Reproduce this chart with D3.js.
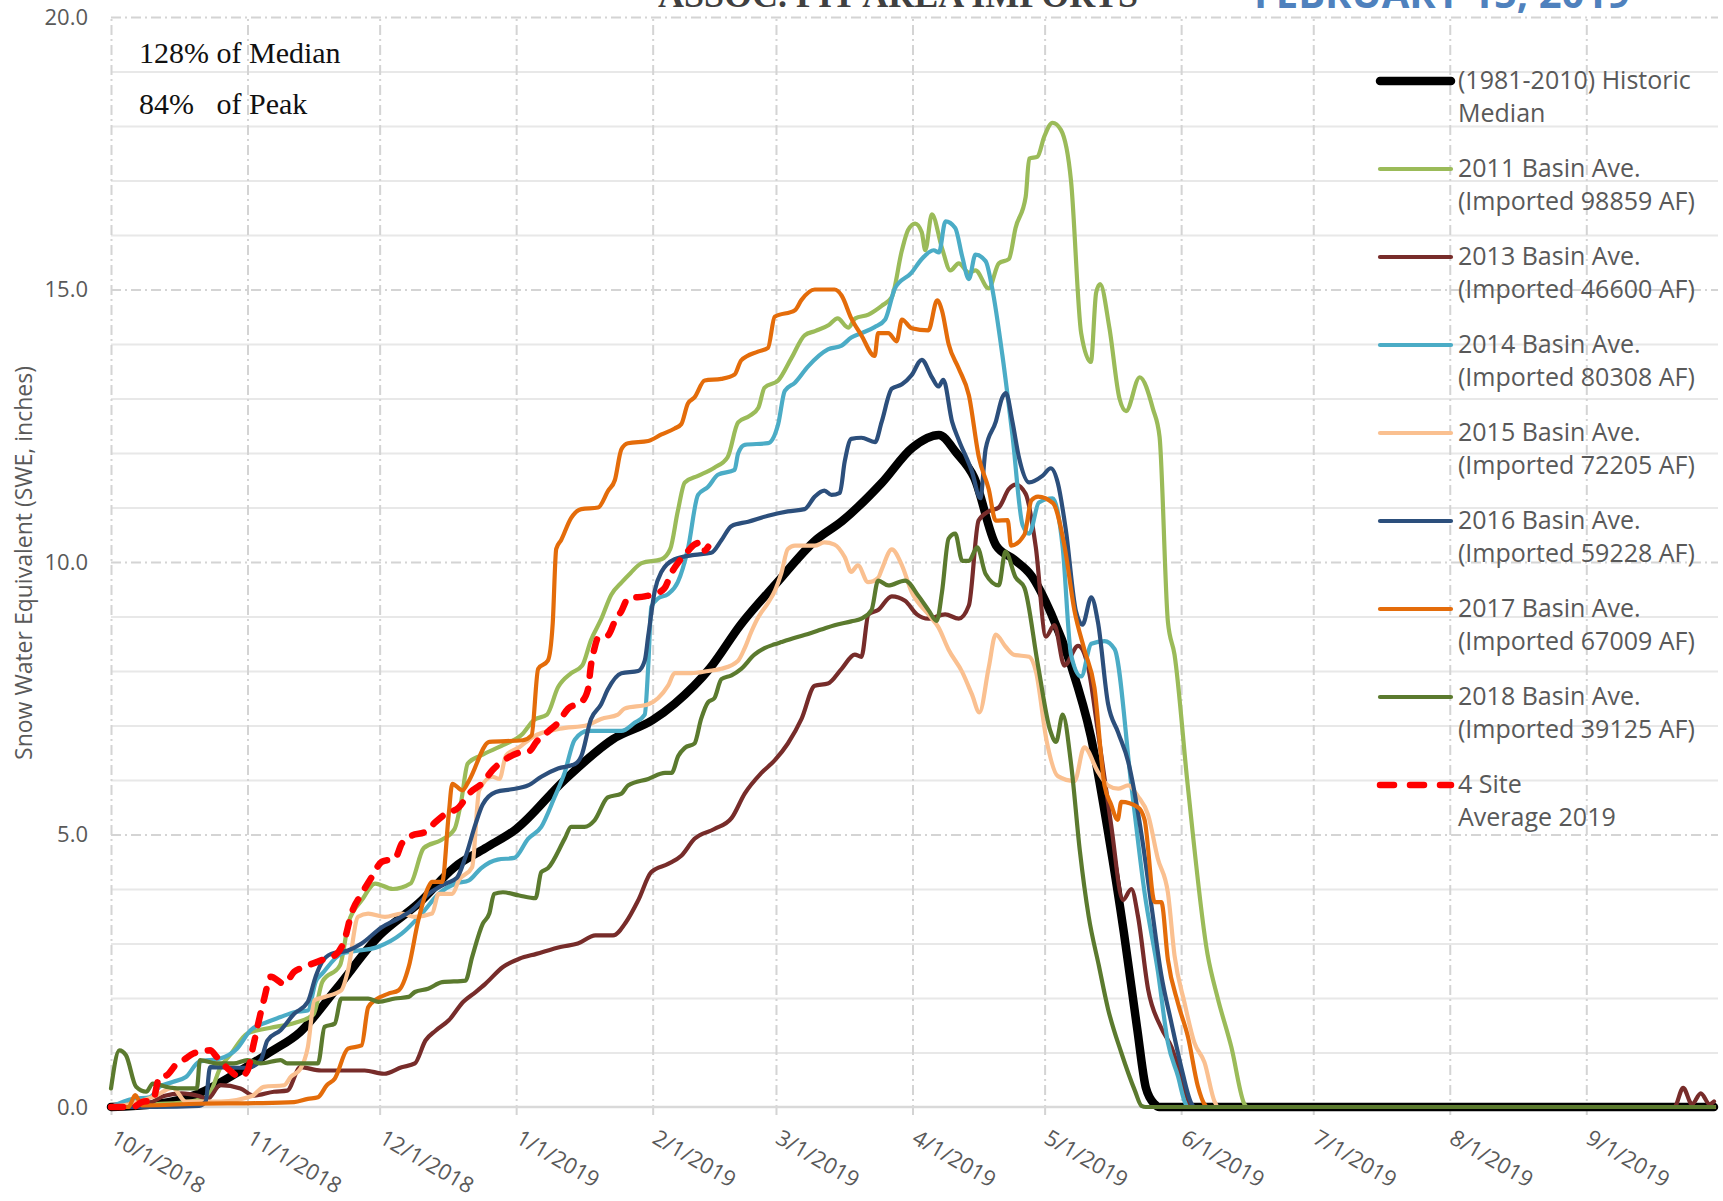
<!DOCTYPE html>
<html>
<head>
<meta charset="utf-8">
<script src="https://cdn.jsdelivr.net/npm/d3@7"></script>
<style>
  body { margin: 0; background: #fff; }
  text { font-family: "Open Sans", sans-serif; }
</style>
</head>
<body>
<div id="chart"></div>
<script>
// day offsets from 10/1/2018, SWE inches
var median = [[0,0],[10,0.05],[20,0.25],[28,0.6],[36,1.0],[43,1.38],[51,2.15],[61,3.15],[70,3.75],[78,4.4],[85,4.75],[92,5.1],[103,6.0],[114,6.75],[123,7.1],[128,7.4],[136,8.05],[143,8.85],[151,9.6],[160,10.4],[166,10.75],[175,11.45],[182,12.1],[188,12.33],[192,12.0],[196,11.55],[201,10.3],[205,10.05],[209,9.75],[213.5,9.05],[218,8.1],[222.5,6.8],[226.5,5.0],[230,3.2],[233,1.45],[235,0.35],[237,0.05],[238,0],[364,0]];

var y2011 = [[0,0],[10,0.05],[18,0.1],[22,0.2],[25,0.75],[27,0.95],[31,1.35],[36,1.45],[42,1.55],[46,1.7],[48,2.3],[52,2.6],[54,3.4],[57,3.8],[60,4.1],[64,4.0],[68,4.1],[71,4.75],[75,4.9],[78,5.1],[79.5,5.6],[81,6.3],[84,6.45],[89,6.64],[93.5,6.85],[96,7.1],[99,7.2],[101.5,7.7],[104.5,7.96],[107,8.1],[109,8.57],[111.3,8.95],[113.6,9.4],[116,9.63],[118,9.8],[120.5,9.98],[125,10.05],[127,10.24],[128.7,10.93],[130.3,11.46],[133.3,11.58],[137,11.73],[140,11.92],[142.4,12.56],[145,12.68],[147,12.83],[148.4,13.2],[151.5,13.33],[154.5,13.74],[157.5,14.16],[160,14.24],[163,14.35],[165,14.47],[167.4,14.3],[169,14.47],[172,14.54],[175,14.7],[177.3,14.86],[179.6,15.72],[181,16.09],[182.6,16.21],[184.1,16.05],[184.9,15.72],[186.4,16.38],[188.7,15.76],[190.6,15.35],[192.5,15.48],[194.8,15.31],[196.3,15.35],[199.3,15.02],[201.6,15.48],[203.9,15.56],[205.4,16.13],[207.7,16.7],[208.5,17.4],[210.4,17.44],[211.9,17.8],[213.8,18.06],[215.7,17.93],[218,16.99],[220.3,14.2],[222.5,13.67],[223.7,14.94],[224.6,15.1],[226.7,14.3],[229,13.0],[230.5,12.77],[233.6,13.39],[236.6,12.81],[238.1,12.3],[240,8.9],[241.5,8.3],[244.5,5.9],[249,2.8],[251.3,2.0],[254.4,1.1],[257.4,0.05],[258,0],[364,0]];

var y2013 = [[0,0],[8,0.05],[12,0.2],[16,0.25],[20,0.2],[22,0.15],[24.8,0.4],[29.4,0.34],[32.4,0.21],[37,0.28],[40,0.3],[43,0.73],[47.7,0.67],[57.6,0.67],[62,0.61],[66,0.73],[69,0.8],[71.4,1.22],[73.7,1.4],[76.7,1.59],[80,1.93],[82.8,2.11],[85,2.26],[89,2.57],[92.7,2.72],[96.6,2.81],[102.3,2.94],[106,3.0],[110,3.15],[114,3.15],[117,3.4],[119.7,3.79],[122.7,4.31],[126.5,4.46],[129.5,4.61],[132.5,4.92],[137,5.1],[140.9,5.3],[143.9,5.75],[147.7,6.13],[150.7,6.36],[153.7,6.67],[156.8,7.12],[159.8,7.73],[162.8,7.77],[165.9,8.04],[168.9,8.3],[170.4,8.26],[172,9.04],[174.2,9.12],[177.3,9.37],[180.3,9.29],[183,9.04],[185.6,8.96],[189.4,9.04],[192.5,8.96],[194.8,9.2],[197,10.76],[199.3,10.93],[201.6,11.0],[203.9,11.34],[205.4,11.42],[207.7,11.25],[210,10.27],[212.3,8.63],[214.2,8.84],[216.5,8.1],[219.6,8.46],[221.8,8.1],[224,6.95],[227.1,5.18],[229.8,3.8],[231.7,4.0],[233.2,3.5],[235.5,2.16],[238.5,1.45],[240.8,1.1],[243,0.56],[244.6,0.12],[245.5,0],[355,0],[357,0.35],[359,0.05],[361,0.25],[363,0.05],[364,0.1]];

var y2014 = [[0,0],[5,0.15],[8.8,0.18],[11,0.37],[14,0.46],[17,0.55],[20,0.83],[24.8,0.89],[28.6,1.07],[31.7,1.41],[35.5,1.56],[38.5,1.65],[41.6,1.74],[44.7,1.77],[46.5,2.3],[48,2.45],[52.3,2.81],[60.7,2.94],[66,3.18],[70.6,3.55],[74.4,3.91],[78.2,4.1],[81.3,4.16],[84,4.38],[87.8,4.54],[91.6,4.57],[94.7,4.92],[97.7,5.14],[100.7,5.68],[103,6.13],[105.3,6.74],[108.3,6.9],[115.9,6.9],[118.9,7.05],[121.2,7.2],[122,8.1],[122.7,9.18],[124.2,9.33],[126.5,9.41],[128.7,9.63],[131,10.24],[133.3,11.23],[135.6,11.38],[137.8,11.6],[141.6,11.69],[142.4,11.99],[143.9,12.15],[149.2,12.18],[151.5,12.53],[153,13.14],[155.3,13.29],[158.3,13.59],[162.8,13.9],[165.9,13.97],[168.1,14.12],[170.4,14.2],[173.4,14.31],[175.8,14.45],[178,15.02],[181.8,15.31],[184.1,15.56],[186.8,15.72],[188,15.68],[189.5,16.25],[191.7,16.13],[193.3,15.6],[194.8,15.19],[196.3,15.64],[198.6,15.52],[200.1,15.02],[202.4,13.8],[204.7,12.32],[207,10.68],[208.5,10.52],[210.7,11.09],[213.8,11.17],[216.1,10.27],[218,8.3],[220.3,7.9],[222.6,8.5],[225.6,8.55],[227.9,8.4],[231.7,5.9],[234.7,3.93],[237.7,2.5],[240,1.18],[242.3,0.56],[243.8,0.1],[244.5,0],[364,0]];

var y2015 = [[0,0],[4,0.05],[10,0.2],[14,0.35],[17,0.1],[25,0.1],[32,0.2],[34.7,0.37],[39.3,0.4],[40.8,0.55],[43,0.7],[44.7,1.1],[46.2,1.96],[48.5,2.02],[52.3,2.14],[53.8,2.5],[56.1,3.49],[58.4,3.55],[62.2,3.49],[66,3.55],[69,3.49],[72.9,3.55],[74.4,3.91],[77.5,3.91],[79,4.16],[82,4.4],[83.6,5.81],[86.6,6.06],[88.2,6.02],[89.7,6.45],[92.7,6.6],[96,6.8],[101.9,6.94],[108.3,7.01],[111.3,7.12],[115.1,7.2],[116.6,7.31],[122,7.39],[124.2,7.5],[126.5,7.73],[128,7.96],[131.8,7.96],[135.6,8.0],[138.6,8.04],[142.4,8.19],[143.9,8.42],[145.4,8.72],[147,8.99],[149.2,9.25],[150.8,9.48],[152.2,9.79],[153.7,10.24],[155.3,10.3],[159.8,10.3],[162,10.36],[164.3,10.32],[166.6,10.09],[168.1,9.82],[169.6,9.94],[171.9,9.63],[174.2,9.71],[175,9.86],[177.3,10.23],[179.6,9.94],[181.8,9.45],[185.6,9.04],[187.9,8.8],[190.2,8.39],[193.3,7.98],[195.5,7.57],[197.2,7.24],[199.3,8.06],[200.9,8.67],[203.1,8.45],[205,8.3],[208.5,8.26],[210,8.0],[212.5,6.7],[215,6.07],[218.8,5.98],[221,6.6],[224.1,6.15],[226.4,5.9],[228.7,5.84],[231,5.9],[233.2,5.7],[235.5,5.36],[237.7,4.56],[240,3.93],[241.5,2.78],[243.8,1.9],[246,1.18],[248.3,0.82],[250.6,0.1],[251.5,0],[364,0]];

var y2016 = [[0,0],[10,0],[20,0.02],[21.5,0.1],[22.5,0.73],[31,0.72],[34,0.86],[35.5,1.22],[38.5,1.41],[41.6,1.71],[44.7,1.93],[46.5,2.4],[47.7,2.63],[50,2.81],[53.8,2.87],[56.9,3.0],[61.5,3.3],[65.3,3.46],[68.3,3.61],[72,3.9],[76,4.1],[78.5,4.2],[80.5,4.59],[82.8,5.2],[84.4,5.55],[87.4,5.78],[91,5.83],[94.7,5.9],[97.7,6.06],[101.5,6.21],[105.3,6.29],[106.8,6.44],[109,7.12],[111.3,7.39],[112.8,7.66],[115.9,7.96],[119.7,8.0],[121.2,8.19],[122,8.65],[123.5,9.48],[125,9.82],[128,10.05],[132.5,10.13],[136.3,10.17],[138.6,10.4],[140.9,10.66],[144.7,10.74],[149.2,10.85],[153.7,10.93],[157.5,10.97],[159.8,11.2],[162,11.31],[163.6,11.23],[165.5,11.27],[166.6,11.84],[168.1,12.26],[170.4,12.28],[173.5,12.2],[175,12.57],[177.3,13.18],[179.6,13.26],[181.8,13.43],[184.1,13.71],[186.4,13.39],[187.9,13.22],[189,13.34],[191,12.57],[192.5,12.24],[195.5,11.66],[197.4,11.17],[198.6,12.07],[200.9,12.57],[202.4,13.02],[203.2,13.1],[204.7,12.57],[206.2,11.91],[208.5,11.46],[211.5,11.58],[213.4,11.72],[215,11.45],[216.8,10.6],[219.1,9.1],[220.6,8.85],[222.6,9.35],[224.1,8.9],[226.4,7.4],[228.7,6.87],[231,6.33],[234,5.0],[236.3,3.67],[238.5,2.42],[240.8,1.54],[243,0.74],[245.3,0.07],[246,0],[364,0]];

var y2017 = [[0,0],[4,0],[5.5,0.22],[7,0.03],[20,0.06],[33,0.07],[41.6,0.09],[44.7,0.15],[47,0.18],[49,0.4],[50.8,0.52],[53.8,1.07],[56.9,1.13],[58.4,1.83],[60,1.96],[63,2.08],[65.3,2.14],[67.6,2.57],[69.8,3.43],[72.1,4.04],[72.9,4.13],[75.2,4.13],[76.7,5.38],[77.5,5.93],[79.8,5.81],[81.3,5.99],[85.9,6.7],[93.5,6.73],[95.5,6.82],[97,8.04],[99.2,8.19],[100.3,8.87],[101.1,10.24],[102.2,10.4],[104.5,10.81],[106.8,10.97],[110.6,11.0],[112.9,11.31],[114.4,11.5],[115.9,12.07],[117.4,12.18],[122,12.22],[125,12.34],[128,12.45],[129.5,12.53],[131,12.91],[132.5,13.02],[134.8,13.33],[138.6,13.36],[141.6,13.44],[143.1,13.7],[146.9,13.86],[149.2,13.93],[150.7,14.5],[155.3,14.62],[156.8,14.81],[159.8,15.0],[164.3,15.0],[165.9,14.89],[168.1,14.47],[170.4,14.16],[173.4,13.78],[174.2,14.2],[176.5,14.2],[178.4,14.05],[179.6,14.45],[181.8,14.29],[185.6,14.25],[187.6,14.8],[188.7,14.61],[190.2,14.0],[192.5,13.55],[194.8,13.06],[197.1,11.91],[199.3,11.34],[200.9,10.76],[203.6,10.77],[204.4,10.3],[207.4,10.5],[209,11.13],[210.5,11.2],[213.9,11.08],[216.5,10.3],[218.8,9.1],[221,8.4],[223.3,7.7],[225.6,5.9],[227.1,5.55],[228.6,5.27],[229.4,5.6],[233.2,5.5],[234.7,5.27],[237,3.76],[238.5,3.76],[240,2.7],[242.3,1.9],[244.6,1.27],[246.8,0.38],[248.3,0.05],[249,0],[364,0]];

var y2018 = [[0,0.34],[1.9,1.04],[3.4,0.95],[5.7,0.37],[8,0.28],[9.5,0.43],[12.6,0.37],[15.6,0.34],[19.5,0.34],[20.2,0.86],[24,0.8],[27.9,0.8],[31,0.86],[34,0.8],[38.5,0.86],[40,0.8],[47,0.8],[48.5,1.47],[50.8,1.53],[52.3,1.99],[58.4,1.99],[60.7,1.93],[64.5,1.99],[67.6,2.02],[69,2.11],[72,2.17],[75.2,2.29],[80.5,2.32],[82,2.75],[84.4,3.36],[85.9,3.55],[87,3.91],[89,3.94],[92.7,3.88],[96.4,3.83],[97.7,4.31],[99.2,4.38],[103,4.92],[104.5,5.14],[107.5,5.14],[109.8,5.26],[112.8,5.68],[115.9,5.75],[117.4,5.9],[122,6.02],[125.8,6.13],[127.3,6.13],[128.8,6.44],[130.3,6.59],[132.5,6.67],[134,7.12],[135.6,7.43],[137,7.5],[138.6,7.85],[140.9,7.92],[143.1,8.04],[146.1,8.3],[148.4,8.42],[150.7,8.49],[152.2,8.53],[155.3,8.61],[158.3,8.68],[161.3,8.76],[164.3,8.84],[168.1,8.91],[170.4,8.96],[172.7,9.12],[174.2,9.66],[176.5,9.57],[180.3,9.66],[183.4,9.37],[185.6,9.12],[187.5,8.92],[188.7,9.45],[190.2,10.43],[191.7,10.52],[193.3,10.02],[194.8,10.02],[196.7,10.27],[198.6,9.78],[201.6,9.57],[203.1,10.19],[205.4,9.72],[207.4,9.53],[210.5,8.1],[213.3,6.9],[214.6,6.7],[216.1,7.2],[218,6.3],[220,4.7],[222,3.5],[224.3,2.6],[226.4,1.8],[229.4,1.0],[232.5,0.3],[234,0.02],[235,0],[364,0]];

var site2019 = [[0,0],[5,0],[7,0.09],[9.5,0.12],[11,0.55],[12.6,0.58],[15,0.8],[16.4,0.86],[18.7,0.98],[22.5,1.04],[24,0.92],[27,0.67],[29.4,0.55],[31,0.67],[32.4,1.16],[34.7,1.96],[36.3,2.39],[39.3,2.26],[41.6,2.48],[43.9,2.57],[47.7,2.69],[50.8,2.78],[53,3.06],[54.6,3.55],[56.9,3.91],[59.2,4.22],[61.5,4.5],[64.5,4.56],[66,4.83],[68.3,4.98],[71.4,5.05],[73.7,5.23],[76,5.38],[79,5.5],[81.3,5.75],[84.4,5.95],[86.6,6.18],[89,6.35],[92.7,6.5],[95,6.53],[96.6,6.7],[99.4,6.9],[101.5,7.05],[103.8,7.31],[106.8,7.43],[108.3,7.66],[109,8.11],[109.8,8.42],[110.6,8.61],[112.8,8.65],[114.4,8.91],[115.9,9.1],[117.4,9.33],[121.2,9.37],[123.4,9.41],[125.7,9.52],[127.2,9.79],[128.7,9.98],[130.3,10.13],[132.5,10.32],[134,10.36],[134.8,10.21],[135.6,10.28]];

var legendLabels = [
  ["(1981-2010) Historic", "Median"],
  ["2011 Basin Ave.", "(Imported 98859 AF)"],
  ["2013 Basin Ave.", "(Imported 46600 AF)"],
  ["2014 Basin Ave.", "(Imported 80308 AF)"],
  ["2015 Basin Ave.", "(Imported 72205 AF)"],
  ["2016 Basin Ave.", "(Imported 59228 AF)"],
  ["2017 Basin Ave.", "(Imported 67009 AF)"],
  ["2018 Basin Ave.", "(Imported 39125 AF)"],
  ["4 Site", "Average 2019"]
];
var yTicks = [0, 5, 10, 15, 20];
var notes = ["128% of Median", "84%   of Peak"];

var series = [
  {pts: median, color: "#000000", w: 8.5},
  {pts: y2011, color: "#9bbb59", w: 4.2},
  {pts: y2013, color: "#772c2a", w: 4.2},
  {pts: y2014, color: "#4bacc6", w: 4.2},
  {pts: y2015, color: "#fac090", w: 4.2},
  {pts: y2016, color: "#2c4f7c", w: 4.2},
  {pts: y2017, color: "#e46c0a", w: 4.2},
  {pts: y2018, color: "#5b7a2e", w: 4.2},
  {pts: site2019, color: "#ff0000", w: 6.5, dash: "12,13"}
];

var W = 1723, H = 1201;
var pLeft = 111, pRight = 1714, pTop = 17, pBottom = 1107;
var start = Date.UTC(2018, 9, 1);
function toDate(d) { return new Date(start + d * 864e5); }

var svg = d3.select("#chart").append("svg")
  .attr("width", W)
  .attr("height", H);

var x = d3.scaleUtc()
  .domain([toDate(0), toDate(364)])
  .range([pLeft, pRight]);
var y = d3.scaleLinear()
  .domain([0, 20])
  .range([pBottom, pTop]);

// minor horizontal grid
svg.append("g")
  .attr("transform", "translate(" + pLeft + ",0)")
  .call(d3.axisLeft(y).tickValues(d3.range(1, 20).filter(function (v) { return v % 5; }))
    .tickSize(-(pRight - pLeft + 4)).tickFormat(""))
  .call(function (g) { g.select(".domain").remove(); })
  .selectAll("line").attr("stroke", "#e8e8e8").attr("stroke-width", 2);

// major horizontal grid, dash-dot
svg.append("g")
  .attr("transform", "translate(" + pLeft + ",0)")
  .call(d3.axisLeft(y).tickValues([5, 10, 15, 20]).tickSize(-(pRight - pLeft + 4)).tickFormat(""))
  .call(function (g) { g.select(".domain").remove(); })
  .selectAll("line").attr("stroke", "#d4d4d4").attr("stroke-width", 2)
  .attr("stroke-dasharray", "10,4,2,4");

// vertical month grid
svg.append("g")
  .attr("transform", "translate(0," + (pBottom + 8) + ")")
  .call(d3.axisBottom(x).ticks(d3.utcMonth.every(1)).tickSize(-(pBottom + 8 - pTop)).tickFormat(""))
  .call(function (g) { g.select(".domain").remove(); })
  .selectAll("line").attr("stroke", "#d4d4d4").attr("stroke-width", 2)
  .attr("stroke-dasharray", "10,4,2,4");

// base line
svg.append("line")
  .attr("x1", pLeft).attr("x2", pRight + 4)
  .attr("y1", y(0)).attr("y2", y(0))
  .attr("stroke", "#d9d9d9").attr("stroke-width", 2.5);

// y labels
var yAx = svg.append("g")
  .attr("transform", "translate(" + pLeft + ",0)")
  .call(d3.axisLeft(y).tickValues(yTicks).tickFormat(d3.format(".1f")).tickSize(0).tickPadding(23));
yAx.select(".domain").remove();
yAx.selectAll("text").attr("fill", "#595959").style("font-size", "22px")
  .style("font-family", "'Open Sans', sans-serif");

// x labels
var xAx = svg.append("g")
  .attr("transform", "translate(0," + pBottom + ")")
  .call(d3.axisBottom(x).ticks(d3.utcMonth.every(1)).tickFormat(d3.utcFormat("%-m/%-d/%Y")).tickSize(0));
xAx.select(".domain").remove();
xAx.selectAll("text")
  .attr("fill", "#595959").style("font-size", "22px")
  .style("font-family", "'Open Sans', sans-serif")
  .attr("text-anchor", "start")
  .attr("x", 0).attr("y", 0).attr("dy", "0.75em")
  .attr("transform", "translate(6,21) rotate(30)");

// axis title
svg.append("text")
  .attr("transform", "translate(32,563) rotate(-90)")
  .attr("text-anchor", "middle")
  .attr("fill", "#595959")
  .style("font-size", "23px")
  .text("Snow Water Equivalent (SWE, inches)");

// lines
var line = d3.line()
  .x(function (p) { return x(toDate(p[0])); })
  .y(function (p) { return y(p[1]); })
  .curve(d3.curveMonotoneX);

svg.append("g").selectAll("path")
  .data(series)
  .enter()
  .append("path")
  .attr("d", function (s) { return line(s.pts); })
  .attr("fill", "none")
  .attr("stroke", function (s) { return s.color; })
  .attr("stroke-width", function (s) { return s.w; })
  .attr("stroke-dasharray", function (s) { return s.dash || null; })
  .attr("stroke-linejoin", "round")
  .attr("stroke-linecap", "round");

// legend
var leg = svg.append("g").selectAll("g")
  .data(series)
  .enter()
  .append("g")
  .attr("transform", function (s, i) { return "translate(0," + (81 + i * 88) + ")"; });
leg.append("line")
  .attr("x1", 1380).attr("x2", 1451)
  .attr("stroke", function (s) { return s.color; })
  .attr("stroke-width", function (s) { return s.w; })
  .attr("stroke-dasharray", function (s) { return s.dash ? "14,16" : null; })
  .attr("stroke-linecap", "round");
leg.append("text")
  .attr("x", 1458).attr("y", 8)
  .attr("fill", "#595959").style("font-size", "25px")
  .text(function (s, i) { return legendLabels[i][0]; });
leg.append("text")
  .attr("x", 1458).attr("y", 41)
  .attr("fill", "#595959").style("font-size", "25px")
  .text(function (s, i) { return legendLabels[i][1]; });

// notes
svg.selectAll(".note")
  .data(notes)
  .enter()
  .append("text")
  .attr("x", 139)
  .attr("y", function (d, i) { return 63 + i * 51; })
  .style("font-family", "'Liberation Serif', 'DejaVu Serif', serif")
  .style("font-size", "30px")
  .style("white-space", "pre")
  .attr("fill", "#111")
  .text(function (d) { return d; });

// titles (cut off at top edge)
svg.append("text")
  .attr("x", 898).attr("y", 7)
  .attr("text-anchor", "middle")
  .style("font-family", "'Liberation Serif', serif")
  .style("font-weight", "bold")
  .style("font-size", "36px")
  .attr("fill", "#404040")
  .text("ASSOC. PIT AREA IMPORTS");
svg.append("text")
  .attr("x", 1442).attr("y", 8)
  .attr("text-anchor", "middle")
  .style("font-weight", "bold")
  .style("font-size", "40px")
  .attr("fill", "#4f81bd")
  .text("FEBRUARY 15, 2019");
</script>
</body>
</html>
